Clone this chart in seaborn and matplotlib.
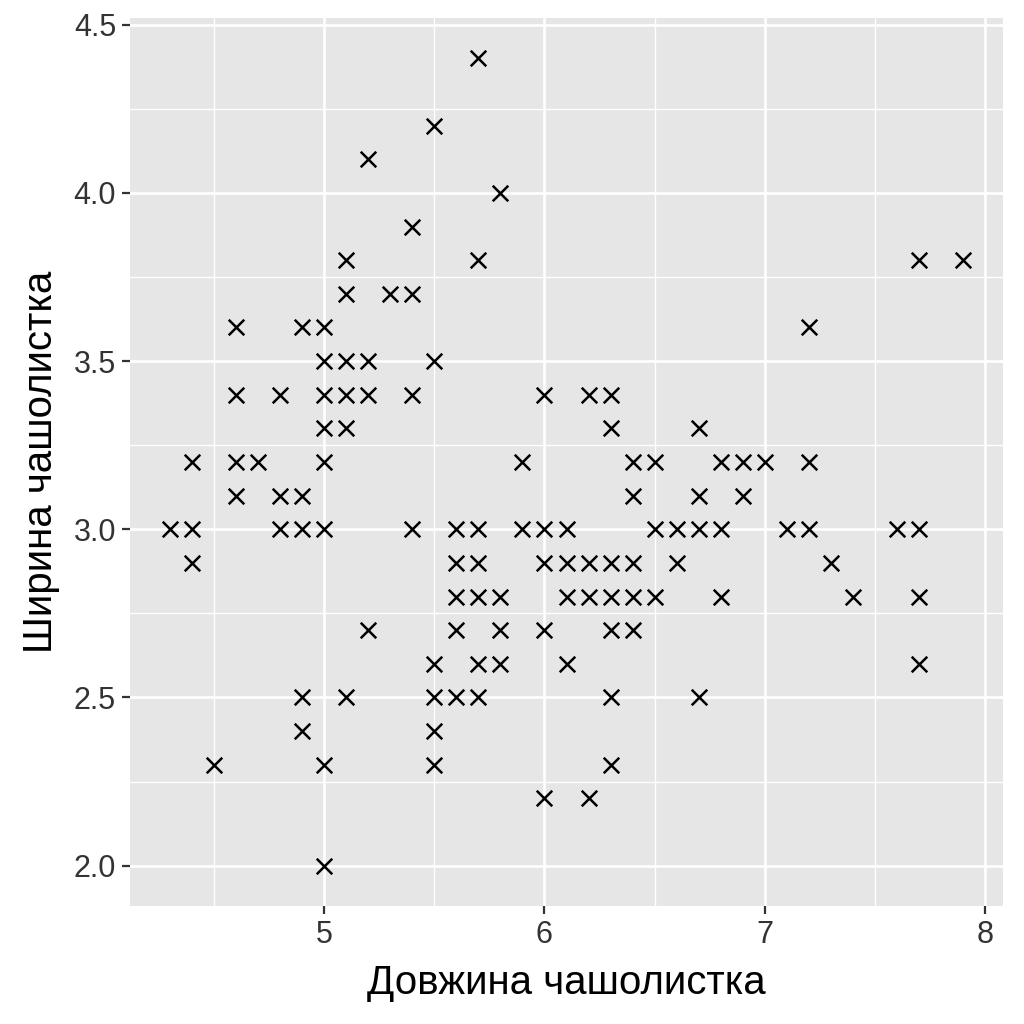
import numpy as np
import pandas as pd
import matplotlib
matplotlib.use("Agg")
import matplotlib.pyplot as plt
import seaborn as sns
from matplotlib.ticker import MultipleLocator

# Довжина / ширина чашолистка (iris)
dovzhyna = [
    5.1, 4.9, 4.7, 4.6, 5.0, 5.4, 4.6, 5.0, 4.4, 4.9, 5.4, 4.8, 4.8, 4.3, 5.8, 5.7, 5.4, 5.1, 5.7, 5.1,
    5.4, 5.1, 4.6, 5.1, 4.8, 5.0, 5.0, 5.2, 5.2, 4.7, 4.8, 5.4, 5.2, 5.5, 4.9, 5.0, 5.5, 4.9, 4.4, 5.1,
    5.0, 4.5, 4.4, 5.0, 5.1, 4.8, 5.1, 4.6, 5.3, 5.0,
    7.0, 6.4, 6.9, 5.5, 6.5, 5.7, 6.3, 4.9, 6.6, 5.2, 5.0, 5.9, 6.0, 6.1, 5.6, 6.7, 5.6, 5.8, 6.2, 5.6,
    5.9, 6.1, 6.3, 6.1, 6.4, 6.6, 6.8, 6.7, 6.0, 5.7, 5.5, 5.5, 5.8, 6.0, 5.4, 6.0, 6.7, 6.3, 5.6, 5.5,
    5.5, 6.1, 5.8, 5.0, 5.6, 5.7, 5.7, 6.2, 5.1, 5.7,
    6.3, 5.8, 7.1, 6.3, 6.5, 7.6, 4.9, 7.3, 6.7, 7.2, 6.5, 6.4, 6.8, 5.7, 5.8, 6.4, 6.5, 7.7, 7.7, 6.0,
    6.9, 5.6, 7.7, 6.3, 6.7, 7.2, 6.2, 6.1, 6.4, 7.2, 7.4, 7.9, 6.4, 6.3, 6.1, 7.7, 6.3, 6.4, 6.0, 6.9,
    6.7, 6.9, 5.8, 6.8, 6.7, 6.7, 6.3, 6.5, 6.2, 5.9,
]
shyryna = [
    3.5, 3.0, 3.2, 3.1, 3.6, 3.9, 3.4, 3.4, 2.9, 3.1, 3.7, 3.4, 3.0, 3.0, 4.0, 4.4, 3.9, 3.5, 3.8, 3.8,
    3.4, 3.7, 3.6, 3.3, 3.4, 3.0, 3.4, 3.5, 3.4, 3.2, 3.1, 3.4, 4.1, 4.2, 3.1, 3.2, 3.5, 3.6, 3.0, 3.4,
    3.5, 2.3, 3.2, 3.5, 3.8, 3.0, 3.8, 3.2, 3.7, 3.3,
    3.2, 3.2, 3.1, 2.3, 2.8, 2.8, 3.3, 2.4, 2.9, 2.7, 2.0, 3.0, 2.2, 2.9, 2.9, 3.1, 3.0, 2.7, 2.2, 2.5,
    3.2, 2.8, 2.5, 2.8, 2.9, 3.0, 2.8, 3.0, 2.9, 2.6, 2.4, 2.4, 2.7, 2.7, 3.0, 3.4, 3.1, 2.3, 3.0, 2.5,
    2.6, 3.0, 2.6, 2.3, 2.7, 3.0, 2.9, 2.9, 2.5, 2.8,
    3.3, 2.7, 3.0, 2.9, 3.0, 3.0, 2.5, 2.9, 2.5, 3.6, 3.2, 2.7, 3.0, 2.5, 2.8, 3.2, 3.0, 3.8, 2.6, 2.2,
    3.2, 2.8, 2.8, 2.7, 3.3, 3.2, 2.8, 3.0, 2.8, 3.0, 2.8, 3.8, 2.8, 2.8, 2.6, 3.0, 3.4, 3.1, 3.0, 3.1,
    3.1, 3.1, 2.7, 3.2, 3.3, 3.0, 2.5, 3.0, 3.4, 3.0,
]

# повтори малюються один раз, як у референсі
df = pd.DataFrame({"dovzhyna": dovzhyna, "shyryna": shyryna}).drop_duplicates()

sns.set_style("darkgrid", {"axes.facecolor": "#E6E6E6", "grid.color": "white"})
plt.rcParams["font.family"] = ["Liberation Sans", "DejaVu Sans"]

fig = plt.figure(figsize=(10.24, 10.24), dpi=100)
ax = fig.add_axes([130 / 1024, 1 - 906 / 1024, 873 / 1024, 888 / 1024])

sns.scatterplot(data=df, x="dovzhyna", y="shyryna", marker="x", color="black",
                s=125, linewidth=1.8, ax=ax, zorder=3)

ax.set_xlim(4.12, 8.08)
ax.set_ylim(1.88, 4.52)
ax.xaxis.set_major_locator(MultipleLocator(1))
ax.xaxis.set_minor_locator(MultipleLocator(0.5))
ax.yaxis.set_major_locator(MultipleLocator(0.5))
ax.yaxis.set_minor_locator(MultipleLocator(0.25))
ax.set_yticks(ax.get_yticks())
ax.set_yticklabels([f"{v:.1f}" for v in ax.get_yticks()])
ax.set_ylim(1.88, 4.52)

ax.grid(which="major", color="white", linewidth=1.9)
ax.grid(which="minor", color="white", linewidth=0.95)
ax.set_axisbelow(True)
for sp in ax.spines.values():
    sp.set_visible(False)

ax.tick_params(which="major", length=6, width=1.6, color="#333333",
               labelsize=22, labelcolor="#333333", pad=4, bottom=True, left=True)
ax.tick_params(which="minor", length=0)

ax.set_xlabel("Довжина чашолистка", fontsize=29, color="black", labelpad=10)
ax.set_ylabel("Ширина чашолистка", fontsize=29, color="black", labelpad=10)

fig.savefig("out.png", dpi=100)
